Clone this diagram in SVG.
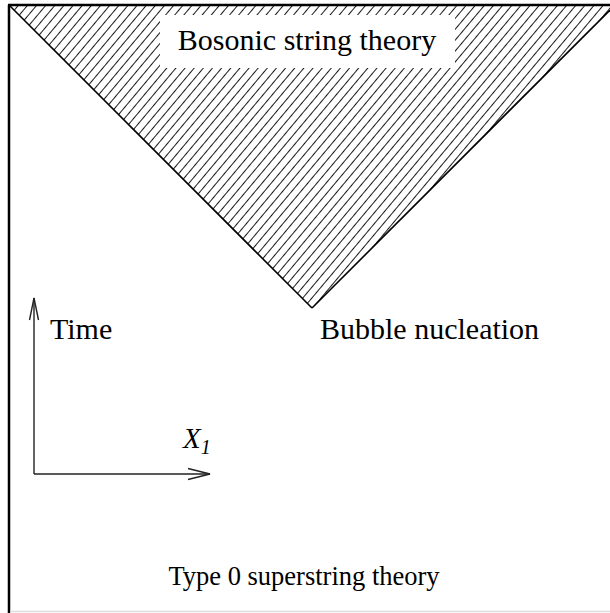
<svg xmlns="http://www.w3.org/2000/svg" width="610" height="613" viewBox="0 0 610 613">
<style>
.t{font-family:"Liberation Serif","Times New Roman",serif;fill:#000}
.edge{stroke:#000;stroke-width:1.6;fill:none}
.axis{stroke:#222;stroke-width:1.4;fill:none}
</style>
<defs>
<pattern id="hatch" width="7" height="7" patternUnits="userSpaceOnUse" patternTransform="rotate(40)">
<line x1="3.5" y1="0" x2="3.5" y2="7" stroke="#000" stroke-width="0.9"/>
</pattern>
</defs>
<rect x="0" y="0" width="610" height="613" fill="#fff"/>
<g id="bosonic-region">
<polygon points="10,6 610,6 610,10 312,308" fill="url(#hatch)"/>
<rect x="160" y="15" width="295" height="53" fill="#fff"/>
<line class="edge" x1="10" y1="6" x2="312" y2="308"/>
<line class="edge" x1="312" y1="308" x2="610" y2="10"/>
<text class="t" x="307" y="50" font-size="30" text-anchor="middle">Bosonic string theory</text>
</g>
<g id="frame">
<line x1="9" y1="5" x2="9" y2="613" stroke="#000" stroke-width="2.5"/>
<line x1="8" y1="5" x2="610" y2="5" stroke="#000" stroke-width="2.5"/>
<line x1="10" y1="611.5" x2="610" y2="611.5" stroke="#ddd" stroke-width="1.5"/>
</g>
<g id="bubble-nucleation">
<text class="t" x="320" y="339" font-size="30">Bubble nucleation</text>
</g>
<g id="connectors">
<line class="axis" x1="34" y1="474" x2="34" y2="298"/>
<polyline class="axis" points="29.5,320 34,298 38.5,320"/>
<line class="axis" x1="34" y1="474" x2="210" y2="474"/>
<polyline class="axis" points="188,468.5 210,474 188,479.5"/>
</g>
<g id="time-label">
<text class="t" x="50" y="339" font-size="30">Time</text>
</g>
<g id="x1-label">
<text class="t" x="183" y="448" font-size="29" font-style="italic">X<tspan font-size="20" dy="6">1</tspan></text>
</g>
<g id="type0">
<text class="t" x="304" y="585" font-size="26.5" text-anchor="middle">Type 0 superstring theory</text>
</g>
</svg>
